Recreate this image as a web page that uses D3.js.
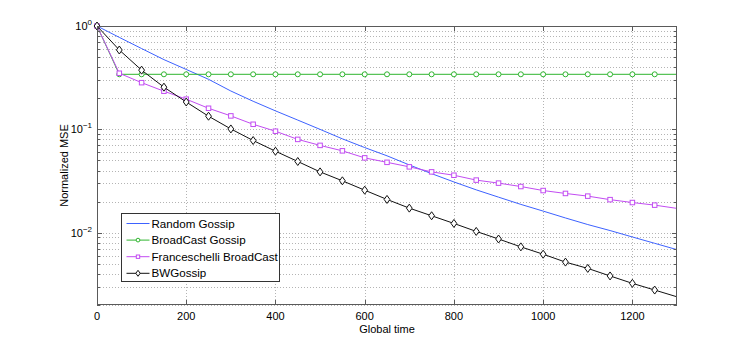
<!DOCTYPE html>
<html>
<head>
<meta charset="utf-8">
<script src="https://cdn.jsdelivr.net/npm/d3@7"></script>
<style>
    body { margin: 0; background: #fff; }
    text { font-family: "Liberation Sans", Arial, Helvetica, sans-serif; }
</style>
</head>
<body>
<div id="chart"></div>
<script>
// global time steps (x) and normalized MSE for each algorithm
const TIME = [0, 50, 100, 150, 200, 250, 300, 350, 400, 450, 500, 550, 600, 650,
    700, 750, 800, 850, 900, 950, 1000, 1050, 1100, 1150, 1200, 1250, 1300];

const RANDOM_GOSSIP = [1, 0.776, 0.605, 0.473, 0.380, 0.305, 0.235, 0.187, 0.151, 0.123,
    0.100, 0.081, 0.0667, 0.0555, 0.0453, 0.0373, 0.031, 0.026, 0.0221, 0.0188,
    0.0162, 0.0139, 0.0120, 0.0105, 0.0091, 0.0079, 0.00686];

const BROADCAST_GOSSIP = [1, 0.341, 0.341, 0.341, 0.341, 0.341, 0.341, 0.341, 0.341, 0.341,
    0.341, 0.341, 0.341, 0.341, 0.341, 0.341, 0.341, 0.341, 0.341, 0.341,
    0.341, 0.341, 0.341, 0.341, 0.341, 0.341, 0.341];

const FRANCESCHELLI = [1, 0.349, 0.283, 0.234, 0.196, 0.160, 0.135, 0.112, 0.096, 0.080,
    0.070, 0.062, 0.053, 0.048, 0.0434, 0.0388, 0.036, 0.0323, 0.0302, 0.028,
    0.0256, 0.024, 0.0226, 0.0209, 0.0196, 0.0185, 0.0172];

const BW_GOSSIP = [1, 0.586, 0.374, 0.256, 0.184, 0.134, 0.101, 0.078, 0.0615, 0.0489,
    0.0388, 0.0318, 0.0258, 0.021, 0.0173, 0.0146, 0.0123, 0.0103, 0.0087, 0.0073,
    0.0062, 0.0052, 0.00452, 0.00382, 0.00324, 0.00279, 0.0024];

const X_TICKS = [0, 200, 400, 600, 800, 1000, 1200];
const Y_TICKS = [1, 0.1, 0.01];
const Y_TICK_EXP = ['0', '\u22121', '\u22122'];

const SERIES = [
    { name: 'Random Gossip', values: RANDOM_GOSSIP, color: '#3d62ff', marker: 'none' },
    { name: 'BroadCast Gossip', values: BROADCAST_GOSSIP, color: '#2fb52f', marker: 'circle' },
    { name: 'Franceschelli BroadCast', values: FRANCESCHELLI, color: '#c24cf2', marker: 'square' },
    { name: 'BWGossip', values: BW_GOSSIP, color: '#111111', marker: 'diamond' }
];

const W = 747, H = 343;
const margin = { top: 26, right: 70, bottom: 38, left: 97 };
const width = W - margin.left - margin.right;
const height = H - margin.top - margin.bottom;

const svg = d3.select('#chart').append('svg')
    .attr('width', W)
    .attr('height', H);

const x = d3.scaleLinear().domain([0, 1300]).range([margin.left, margin.left + width]);
const y = d3.scaleLog().domain([0.002, 1]).range([margin.top + height, margin.top]);

const GRID = '#b4b4b4';
const AXIS = '#5a5a5a';

// minor log ticks for grid and tick marks
const minorY = [];
[0.001, 0.01, 0.1].forEach(dec => {
    for (let k = 2; k <= 9; k++) {
        const v = dec * k;
        if (v >= 0.002 && v < 1) minorY.push(v);
    }
});

const grid = svg.append('g').attr('class', 'grid');
grid.selectAll('.gy').data(minorY.concat([0.1, 0.01])).enter().append('line')
    .attr('x1', margin.left).attr('x2', margin.left + width)
    .attr('y1', d => Math.round(y(d)) + 0.5).attr('y2', d => Math.round(y(d)) + 0.5)
    .attr('stroke', GRID).attr('stroke-dasharray', '1,2');
grid.selectAll('.gx').data(X_TICKS.slice(1)).enter().append('line')
    .attr('x1', d => Math.round(x(d)) + 0.5).attr('x2', d => Math.round(x(d)) + 0.5)
    .attr('y1', margin.top).attr('y2', margin.top + height)
    .attr('stroke', GRID).attr('stroke-dasharray', '1,2');

// clip for the data lines
svg.append('clipPath').attr('id', 'plotClip')
    .append('rect')
    .attr('x', margin.left).attr('y', margin.top)
    .attr('width', width).attr('height', height);

const line = d3.line()
    .x((d, i) => x(TIME[i]))
    .y(d => y(d));

const plot = svg.append('g');

const drawMarker = function(g, type, color, cx, cy, k) {
    k = k || 1;
    if (type === 'circle') {
        g.append('circle').attr('cx', cx).attr('cy', cy).attr('r', 2.5 * k)
            .attr('fill', '#fff').attr('stroke', color).attr('stroke-width', 1);
    } else if (type === 'square') {
        const s = 4.5 * k;
        g.append('rect').attr('x', cx - s / 2).attr('y', cy - s / 2)
            .attr('width', s).attr('height', s)
            .attr('fill', '#fff').attr('stroke', color).attr('stroke-width', 1);
    } else if (type === 'diamond') {
        const dx = 2.9 * k, dy = 4 * k;
        g.append('path')
            .attr('d', `M${cx},${cy - dy}L${cx + dx},${cy}L${cx},${cy + dy}L${cx - dx},${cy}Z`)
            .attr('fill', '#fff').attr('stroke', color).attr('stroke-width', 1);
    }
};

SERIES.forEach(s => {
    const g = plot.append('g');
    g.append('path')
        .attr('d', line(s.values))
        .attr('fill', 'none')
        .attr('stroke', s.color)
        .attr('stroke-width', 1)
        .attr('clip-path', 'url(#plotClip)');
    if (s.marker !== 'none') {
        s.values.forEach((v, i) => {
            if (TIME[i] < 1300) drawMarker(g, s.marker, s.color, x(TIME[i]), y(v));
        });
    }
});

// axes box with inward ticks
const axes = svg.append('g').attr('stroke', AXIS).attr('fill', 'none');
axes.append('rect')
    .attr('x', margin.left + 0.5).attr('y', margin.top + 0.5)
    .attr('width', width - 1).attr('height', height - 1);

X_TICKS.forEach(t => {
    const px = Math.round(x(t)) + 0.5;
    axes.append('line').attr('x1', px).attr('x2', px)
        .attr('y1', margin.top + height).attr('y2', margin.top + height - 5);
    axes.append('line').attr('x1', px).attr('x2', px)
        .attr('y1', margin.top).attr('y2', margin.top + 5);
});
Y_TICKS.forEach(t => {
    const py = Math.round(y(t)) + 0.5;
    axes.append('line').attr('x1', margin.left).attr('x2', margin.left + 5).attr('y1', py).attr('y2', py);
    axes.append('line').attr('x1', margin.left + width).attr('x2', margin.left + width - 5).attr('y1', py).attr('y2', py);
});
minorY.forEach(t => {
    const py = Math.round(y(t)) + 0.5;
    axes.append('line').attr('x1', margin.left).attr('x2', margin.left + 3).attr('y1', py).attr('y2', py);
    axes.append('line').attr('x1', margin.left + width).attr('x2', margin.left + width - 3).attr('y1', py).attr('y2', py);
});

// tick labels
svg.selectAll('.xl').data(X_TICKS).enter().append('text')
    .attr('x', d => x(d))
    .attr('y', margin.top + height + 15)
    .attr('text-anchor', 'middle')
    .attr('font-size', 11)
    .attr('fill', '#000')
    .text(d => d);

Y_TICKS.forEach((t, i) => {
    const txt = svg.append('text')
        .attr('x', margin.left - 5)
        .attr('y', y(t) + 4)
        .attr('text-anchor', 'end')
        .attr('font-size', 11)
        .attr('fill', '#000');
    txt.append('tspan').text('10');
    txt.append('tspan').attr('dy', -5).attr('font-size', 8).text(Y_TICK_EXP[i]);
});

// axis titles
svg.append('text')
    .attr('x', margin.left + width / 2)
    .attr('y', margin.top + height + 28)
    .attr('text-anchor', 'middle')
    .attr('font-size', 11)
    .text('Global time');

svg.append('text')
    .attr('transform', `translate(68,${margin.top + height / 2}) rotate(-90)`)
    .attr('text-anchor', 'middle')
    .attr('font-size', 11)
    .text('Normalized MSE');

// legend
const legend = svg.append('g').attr('transform', 'translate(121.5,213.5)');
legend.append('rect')
    .attr('width', 158).attr('height', 68)
    .attr('fill', '#fff').attr('stroke', '#333');

SERIES.forEach((s, i) => {
    const row = legend.append('g').attr('transform', `translate(0,${10 + i * 16.6})`);
    row.append('line')
        .attr('x1', 5).attr('x2', 28).attr('y1', 0).attr('y2', 0)
        .attr('stroke', s.color).attr('stroke-width', 1);
    drawMarker(row, s.marker, s.color, 16.5, 0, 0.75);
    row.append('text')
        .attr('x', 30).attr('y', 4)
        .attr('font-size', 11.6)
        .text(s.name);
});
</script>
</body>
</html>
